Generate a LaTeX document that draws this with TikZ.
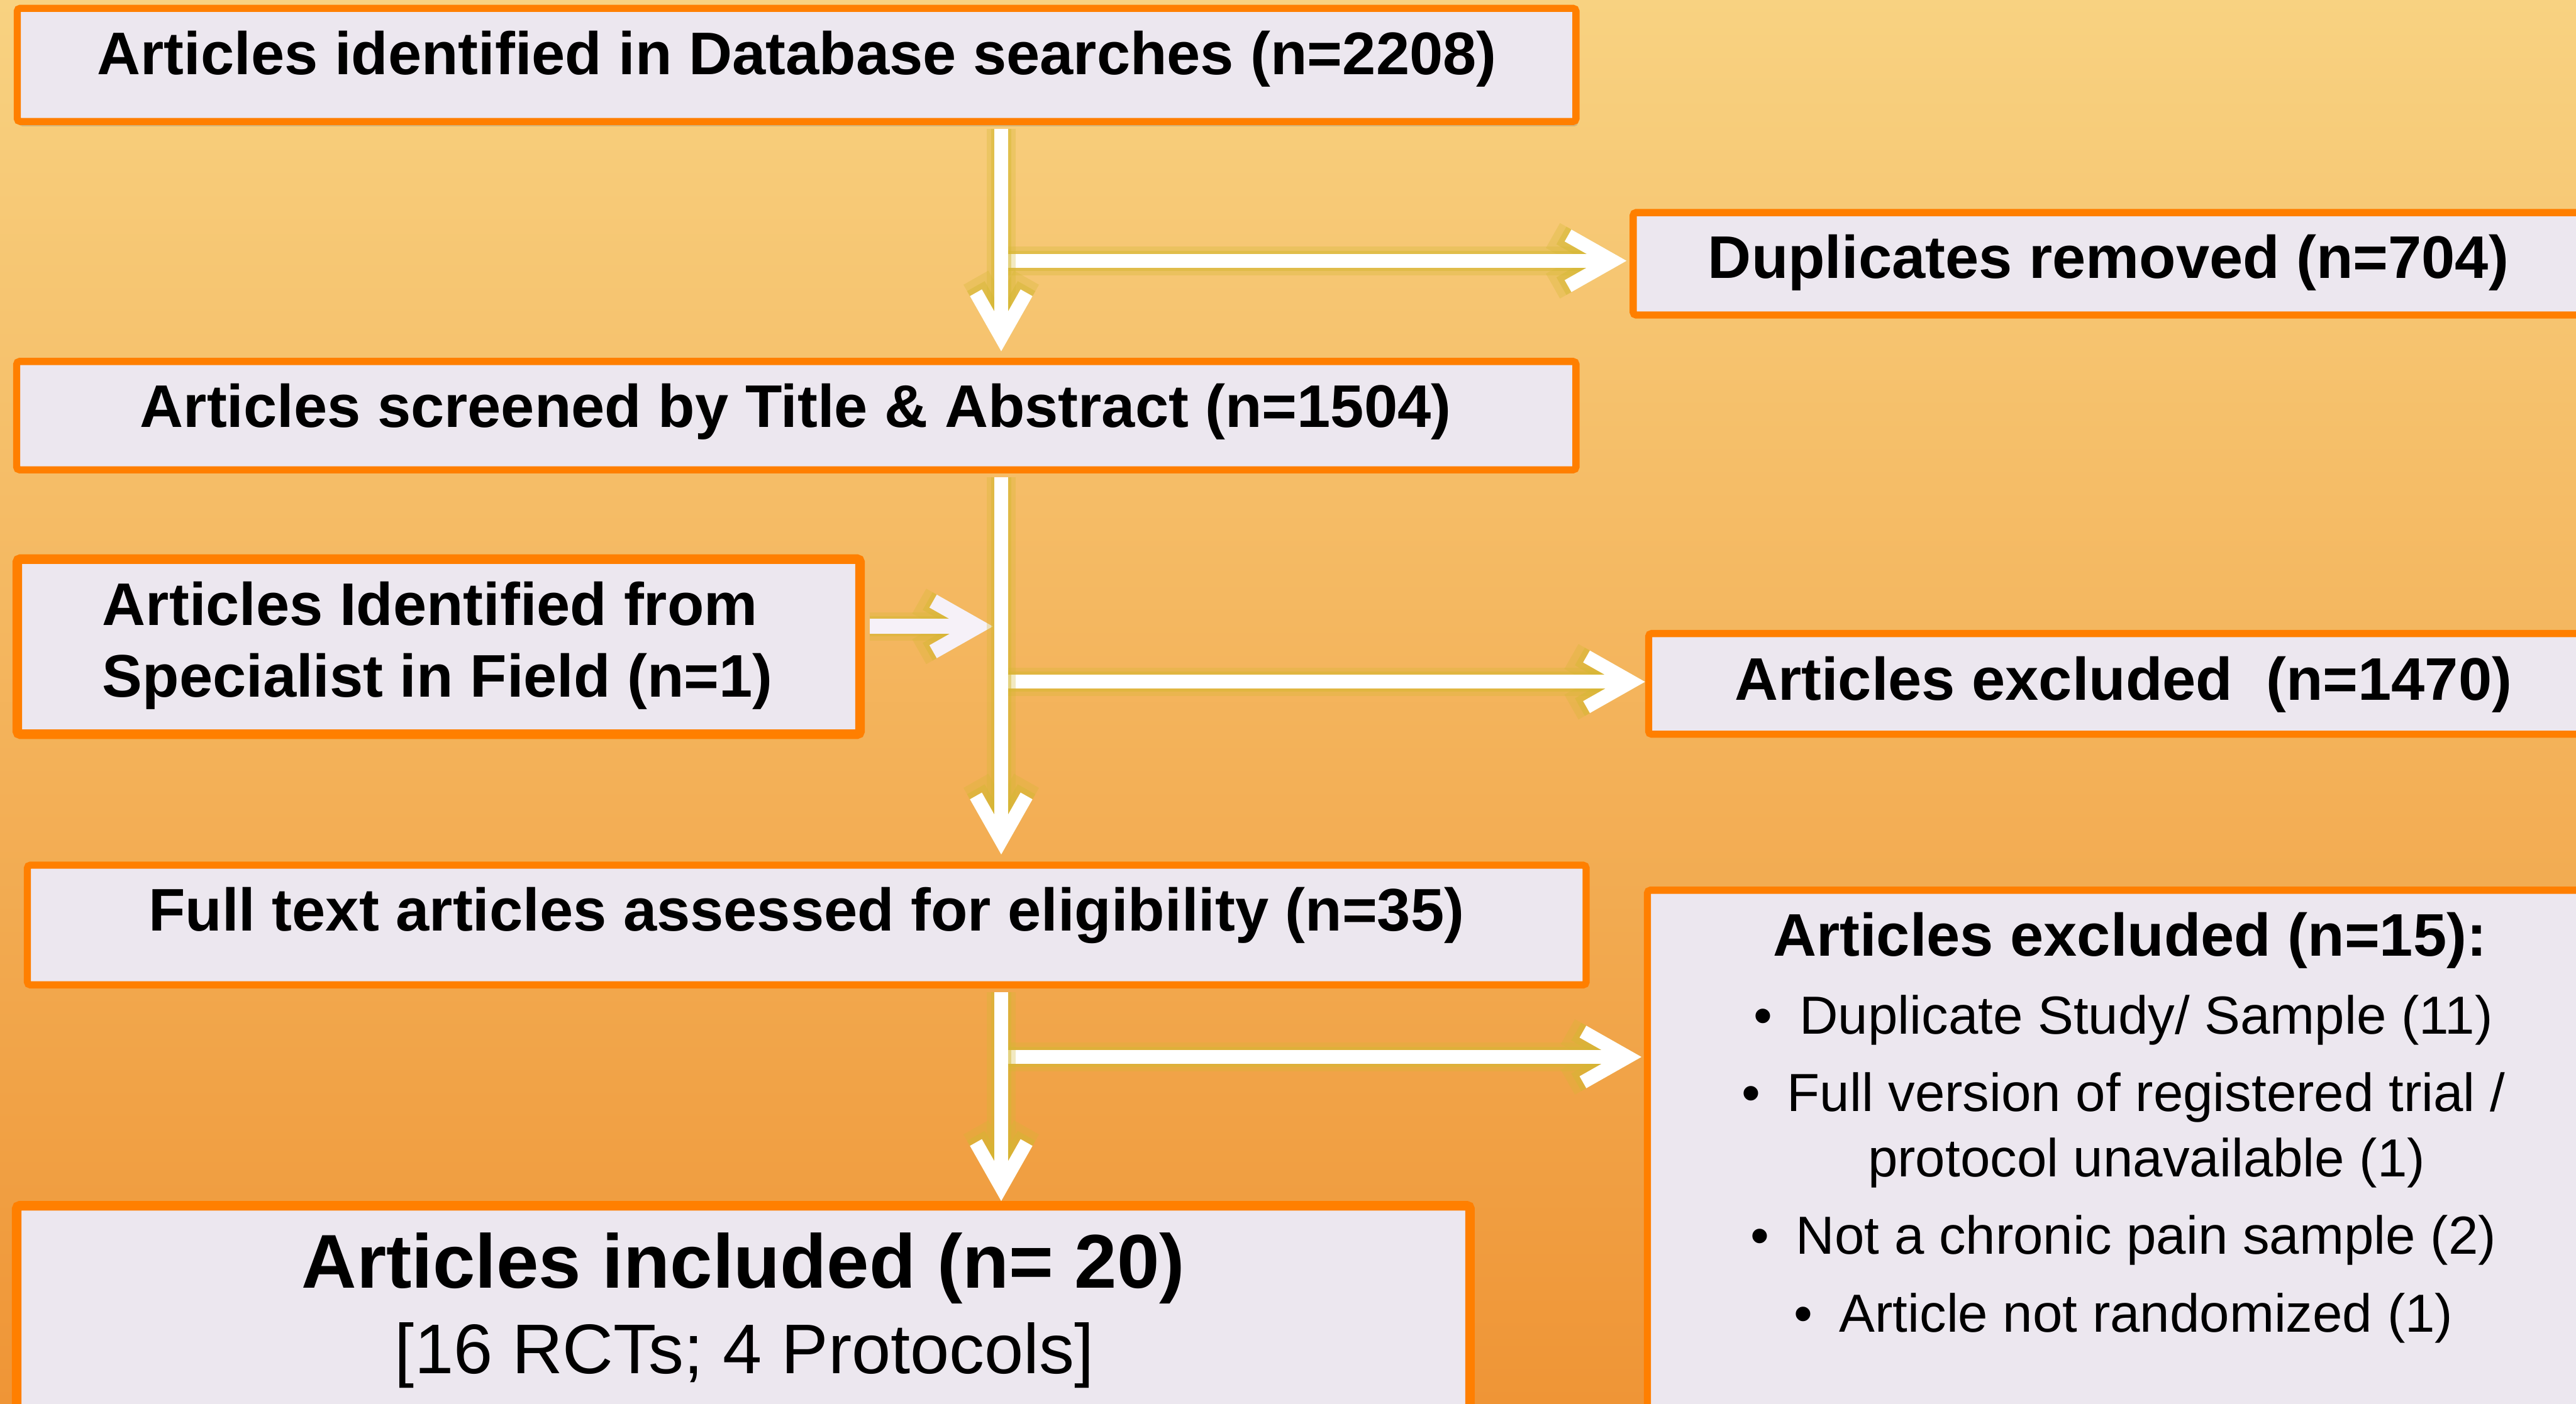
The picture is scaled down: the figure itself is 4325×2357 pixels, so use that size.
\documentclass[tikz,border=0pt]{standalone}
\usepackage{fontspec}
\setmainfont{Liberation Sans}
\usetikzlibrary{arrows.meta, fit, shadows}

\definecolor{bgtop}{RGB}{248,210,129}
\definecolor{bgbottom}{RGB}{239,149,54}
\definecolor{boxfill}{RGB}{236,231,239}
\definecolor{boxedge}{RGB}{255,127,0}
\definecolor{glow}{RGB}{212,184,50}
\definecolor{lilac}{RGB}{246,241,248}

\newcommand{\itm}[1]{\textbullet\hspace{9pt}#1}

\begin{document}
\begin{tikzpicture}[x=0.2pt, y=-0.2pt,
    box/.style={draw=boxedge, fill=boxfill, line width=2.4pt, rounded corners=1pt, inner sep=0pt},
    thickbox/.style={box, line width=3.2pt},
    head/.style={font=\fontsize{20.2pt}{24pt}\selectfont\bfseries, inner sep=0pt, anchor=base},
    item/.style={font=\fontsize{18pt}{21pt}\selectfont, inner sep=0pt, anchor=base},
    flow/.style={draw=white, line width=4.6pt, -{Straight Barb[length=15pt, width=17pt]},
        preaction={draw=glow, draw opacity=.3, line width=9.6pt},
        preaction={draw=glow, draw opacity=.45, line width=6.8pt}}]
    \useasboundingbox (0,0) rectangle (4325,2357);
    \clip (0,0) rectangle (4325,2357);
    % Background
    \shade[top color=bgtop, bottom color=bgbottom] (0,0) rectangle (4325,2357);

    % Boxes
    \node[box, fit={(29,14) (2646,204)},
        drop shadow={shadow xshift=0.6pt, shadow yshift=-1.6pt, opacity=.3}] (ident) {};
    \node[box, fit={(2742,357) (4338,529)}] (dupl) {};
    \node[box, fit={(28,607) (2646,789)}] (screen) {};
    \node[thickbox, fit={(29,939) (1444,1233)}] (spec) {};
    \node[box, fit={(2768,1064) (4362,1233)}] (excl) {};
    \node[box, fit={(46,1453) (2663,1654)}] (full) {};
    \node[box, fit={(2766,1495) (4368,2494)}] (reasons) {};
    \node[thickbox, fit={(28,2025) (2468,2492)}] (incl) {};

    % Labels
    \node[head] (identtext) at (1338,125) {Articles identified in Database searches (n=2208)};
    \node[head] (dupltext) at (3540,467) {Duplicates removed (n=704)};
    \node[head] (screentext) at (1336,717) {Articles screened by Title \& Abstract (n=1504)};
    \node[head, anchor=base west] (spectext1) at (171,1050) {Articles Identified from};
    \node[head, anchor=base west] (spectext2) at (171,1170) {Specialist in Field (n=1)};
    \node[head] (excltext) at (3565,1176) {Articles excluded\ \ (n=1470)};
    \node[head] (fulltext) at (1354,1563) {Full text articles assessed for eligibility (n=35)};
    \node[head] (reasonstext) at (3576,1606) {Articles excluded (n=15):};
    \node[item] (reason1) at (3565,1736) {\itm{Duplicate Study/ Sample (11)}};
    \node[item] (reason2) at (3565,1866) {\itm{Full version of registered trial /}};
    \node[item] (reason2b) at (3604,1976) {protocol unavailable (1)};
    \node[item] (reason3) at (3565,2106) {\itm{Not a chronic pain sample (2)}};
    \node[item] (reason4) at (3565,2237) {\itm{Article not randomized (1)}};
    \node[head, font=\fontsize{25.6pt}{30pt}\selectfont\bfseries] (incltext) at (1248,2163) {Articles included (n= 20)};
    \node[item, font=\fontsize{23.6pt}{28pt}\selectfont] (incltext2) at (1250,2307) {[16 RCTs; 4 Protocols]};

    % Connectors
    \coordinate (spine) at (1681,0);
    \draw[flow, shorten >=1pt] (spine |- 0,438) -- (dupl.west |- 0,438);
    \draw[flow] (spine |- 0,1145) -- (excl.west |- 0,1145);
    \draw[flow, shorten >=0.8pt] (spine |- 0,1775) -- (reasons.west |- 0,1775);
    \draw[flow, draw=lilac, line width=5pt, shorten <=1.6pt, shorten >=2.8pt]
        (spec.east |- 0,1052) -- (spine |- 0,1052);
    \draw[flow, shorten <=1.2pt, shorten >=2.2pt] (ident.south -| spine) -- (screen.north -| spine);
    \draw[flow, shorten <=1.2pt, shorten >=2.4pt] (screen.south -| spine) -- (full.north -| spine);
    \draw[flow, shorten <=1.2pt] (full.south -| spine) -- (incl.north -| spine);
\end{tikzpicture}
\end{document}
